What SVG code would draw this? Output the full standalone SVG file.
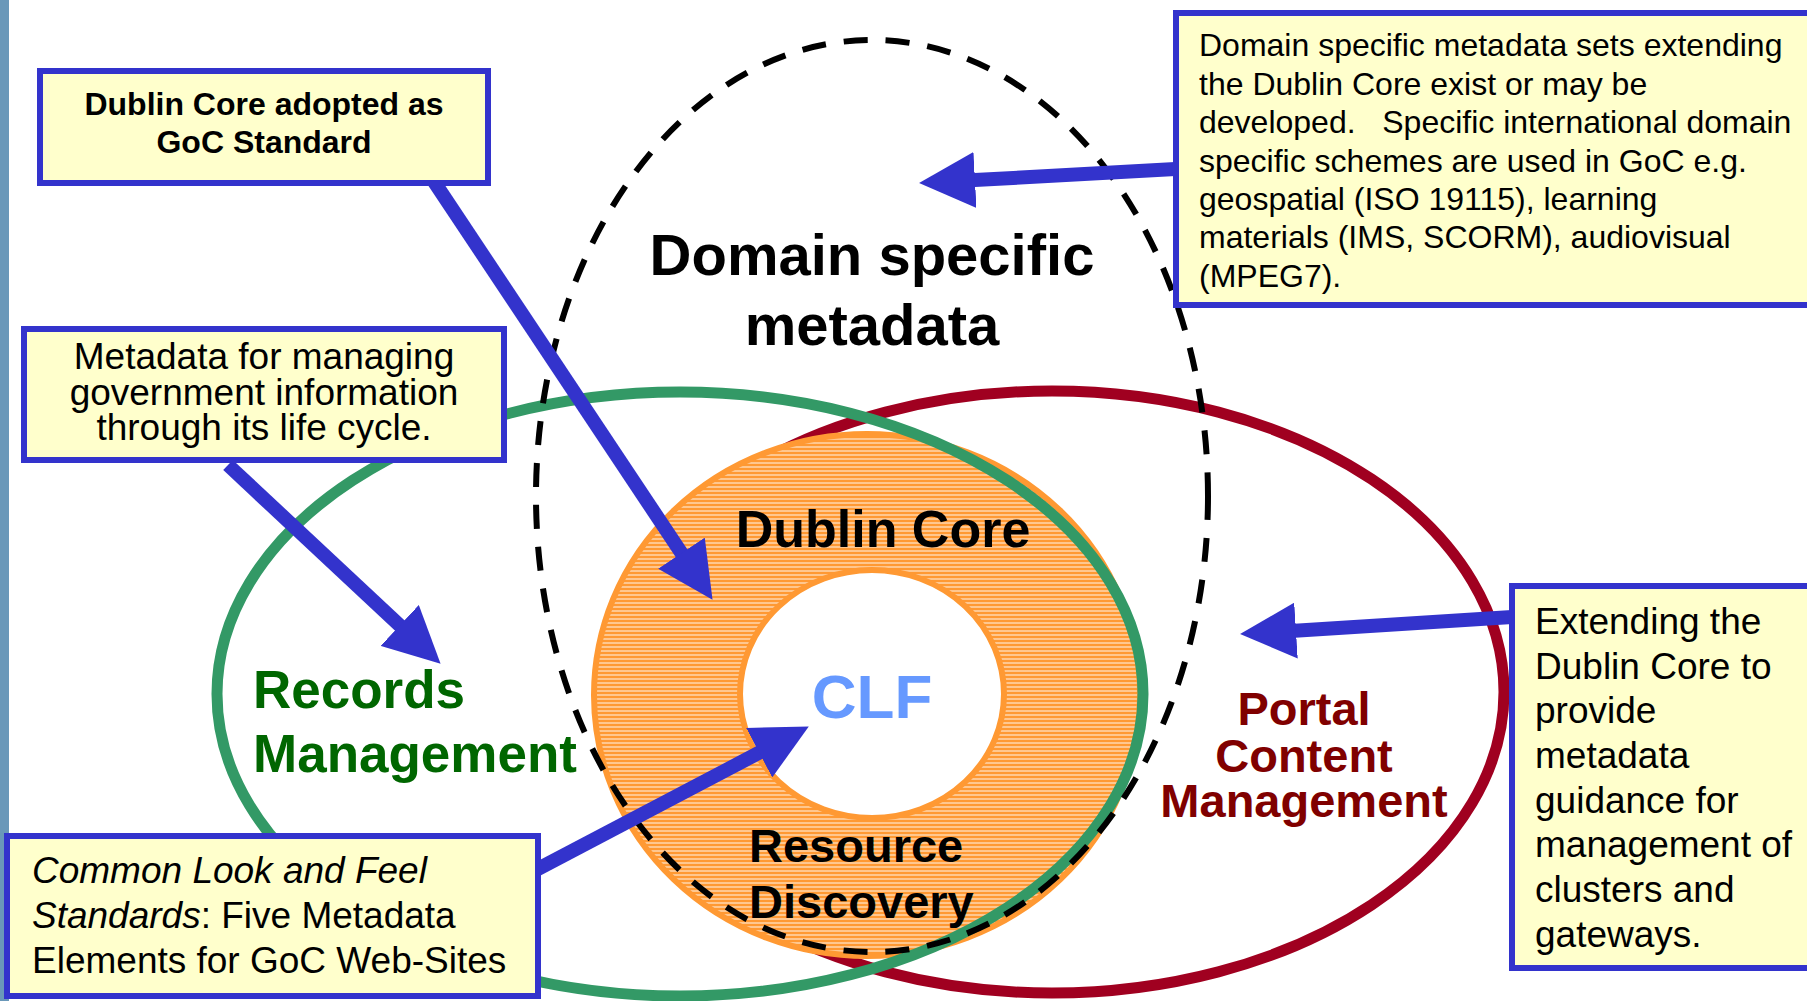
<svg xmlns="http://www.w3.org/2000/svg" width="1807" height="1001" viewBox="0 0 1807 1001">
<style>
.box{fill:#ffffcc;stroke:#3333cc;stroke-width:6}
.t{font-family:"Liberation Sans",Arial,sans-serif;fill:#000}
.b{font-weight:bold}
.c{text-anchor:middle}
.conn{stroke:#3333cc;stroke-width:14;fill:none;marker-end:url(#ah)}
</style>
<defs>
<marker id="ah" markerUnits="userSpaceOnUse" markerWidth="56" markerHeight="56" viewBox="0 0 55 55" refX="5" refY="27.5" orient="auto">
<path d="M0,0 L55,27.5 L0,55 z" fill="#3333cc"/>
</marker>
<pattern id="hatch" patternUnits="userSpaceOnUse" width="8" height="4">
<rect width="8" height="4" fill="#ff9933"/>
<rect y="2.5" width="8" height="1" fill="#ffffff" opacity="0.9"/>
</pattern>
</defs>
<rect x="0" y="0" width="1807" height="1001" fill="#ffffff"/>
<rect x="0" y="0" width="9" height="1001" fill="#6a98b9"/>

<g id="portal-ellipse">
<ellipse cx="1052" cy="692" rx="452" ry="301" fill="none" stroke="#a00020" stroke-width="11"/>
</g>
<g id="dublin-core-ring">
<path d="M594,695 a273,261 0 1,0 546,0 a273,261 0 1,0 -546,0 z M740,694 a132,124 0 1,0 264,0 a132,124 0 1,0 -264,0 z" fill="url(#hatch)" fill-rule="evenodd" stroke="#ff9933" stroke-width="6"/>
<text class="t b c" x="883" y="547" font-size="52">Dublin Core</text>
<text class="t b" font-size="47"><tspan x="749" y="862">Resource</tspan><tspan x="749" y="918">Discovery</tspan></text>
</g>
<g id="clf">
<text class="t b c" x="872" y="718" font-size="62" style="fill:#6699ff">CLF</text>
</g>
<g id="records-ellipse">
<ellipse cx="680" cy="694" rx="463" ry="302" fill="none" stroke="#339966" stroke-width="11"/>
<text class="t b" font-size="53" style="fill:#006600"><tspan x="253" y="708">Records</tspan><tspan x="253" y="772">Management</tspan></text>
</g>
<g id="domain-ellipse">
<ellipse cx="872" cy="496" rx="336" ry="456" fill="none" stroke="#000" stroke-width="6" stroke-dasharray="24 18"/>
<text class="t b c" font-size="58"><tspan x="872" y="275">Domain specific</tspan><tspan x="872" y="345">metadata</tspan></text>
</g>
<g id="portal-label">
<text class="t b c" font-size="47" style="fill:#800000"><tspan x="1304" y="725">Portal</tspan><tspan x="1304" y="772">Content</tspan><tspan x="1304" y="817">Management</tspan></text>
</g>

<g id="connectors">
<line class="conn" x1="433" y1="180" x2="684.3" y2="557.4"/>
<line class="conn" x1="228" y1="465" x2="403.4" y2="628.9"/>
<line class="conn" x1="1180" y1="168.8" x2="969.9" y2="180.3"/>
<line class="conn" x1="534" y1="871" x2="763.7" y2="750.3"/>
<line class="conn" x1="1516" y1="616.8" x2="1290.9" y2="630.9"/>
</g>

<g id="box-dc-standard">
<rect class="box" x="40" y="71" width="448" height="112"/>
<text class="t b c" font-size="32"><tspan x="264" y="115">Dublin Core adopted as</tspan><tspan x="264" y="153">GoC Standard</tspan></text>
</g>
<g id="box-records">
<rect class="box" x="24" y="329" width="480" height="131"/>
<text class="t c" font-size="37"><tspan x="264" y="369">Metadata for managing</tspan><tspan x="264" y="405">government information</tspan><tspan x="264" y="440">through its life cycle.</tspan></text>
</g>
<g id="box-domain">
<rect class="box" x="1176" y="13" width="700" height="292"/>
<text class="t" font-size="32"><tspan x="1199" y="56">Domain specific metadata sets extending</tspan><tspan x="1199" y="95">the Dublin Core exist or may be</tspan><tspan x="1199" y="133">developed.&#160;&#160; Specific international domain</tspan><tspan x="1199" y="172">specific schemes are used in GoC e.g.</tspan><tspan x="1199" y="210">geospatial (ISO 19115), learning</tspan><tspan x="1199" y="248">materials (IMS, SCORM), audiovisual</tspan><tspan x="1199" y="287">(MPEG7).</tspan></text>
</g>
<g id="box-clf">
<rect class="box" x="7" y="836" width="531" height="160"/>
<text class="t" font-size="37"><tspan x="32" y="883" font-style="italic">Common Look and Feel</tspan><tspan x="32" y="928" font-style="italic">Standards</tspan><tspan>: Five Metadata</tspan><tspan x="32" y="973">Elements for GoC Web-Sites</tspan></text>
</g>
<g id="box-portal">
<rect class="box" x="1512" y="586" width="400" height="382"/>
<text class="t" font-size="37"><tspan x="1535" y="634">Extending the</tspan><tspan x="1535" y="679">Dublin Core to</tspan><tspan x="1535" y="723">provide</tspan><tspan x="1535" y="768">metadata</tspan><tspan x="1535" y="813">guidance for</tspan><tspan x="1535" y="857">management of</tspan><tspan x="1535" y="902">clusters and</tspan><tspan x="1535" y="947">gateways.</tspan></text>
</g>
</svg>
